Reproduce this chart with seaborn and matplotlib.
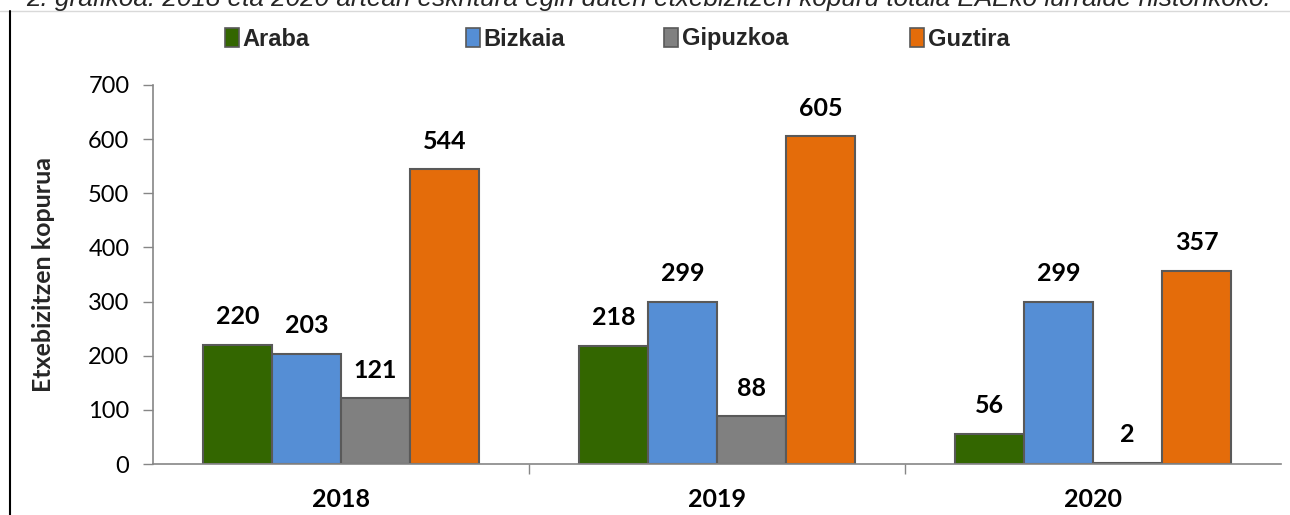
import matplotlib
matplotlib.use('Agg')
import matplotlib.pyplot as plt
import pandas as pd
import seaborn as sns
from matplotlib.lines import Line2D

# data
years = ['2018', '2019', '2020']
territories = ['Araba', 'Bizkaia', 'Gipuzkoa', 'Guztira']
araba = [220, 218, 56]
bizkaia = [203, 299, 299]
gipuzkoa = [121, 88, 2]
guztira = [544, 605, 357]
colors = ['#336600', '#558ED5', '#808080', '#E46C0A']

title = ('2. grafikoa: 2018 eta 2020 artean eskritura egin duten '
         'etxebizitzen kopuru totala EAEko lurralde historikoko.')
ylabel = 'Etxebizitzen kopurua'

df = pd.DataFrame({
    'year': years * 4,
    'territory': [t for t in territories for _ in years],
    'value': araba + bizkaia + gipuzkoa + guztira,
})

sns.set_theme(style='white')
plt.rcParams['font.family'] = ['Lato', 'DejaVu Sans']

fig = plt.figure(figsize=(12.9, 5.15), dpi=100)
ax = fig.add_axes([0.1186, 0.099, 0.8744, 0.736])

sns.barplot(data=df, x='year', y='value', hue='territory', order=years,
            hue_order=territories, palette=colors, width=0.735, gap=0,
            edgecolor='#595959', linewidth=1.5, saturation=1, ax=ax,
            legend=False)

# value labels above each bar
for cont in ax.containers:
    ax.bar_label(cont, fmt='%d', padding=12, fontsize=18, fontweight='bold',
                 color='black')

ax.set_xlim(-0.5, 2.5)
ax.set_ylim(0, 700)
ax.set_yticks(range(0, 701, 100))
ax.set_xlabel('')
ax.set_ylabel(ylabel, fontsize=18, fontweight='bold', labelpad=24)
ax.tick_params(axis='y', labelsize=17, length=7, width=1, color='#868686',
               direction='out', left=True, pad=10, labelcolor='black')
ax.tick_params(axis='x', which='major', length=0, pad=17, labelsize=18,
               labelcolor='black')
for lbl in ax.get_xticklabels():
    lbl.set_fontweight('bold')
ax.set_xticks([0.5, 1.5], minor=True)
ax.tick_params(axis='x', which='minor', length=7, width=1, color='#868686',
               direction='out', bottom=True)

for side in ['top', 'right']:
    ax.spines[side].set_visible(False)
for side in ['left', 'bottom']:
    ax.spines[side].set_color('#868686')
    ax.spines[side].set_linewidth(1.2)

# legend across the top, one entry per slot as in the reference
legend_x = [225, 466, 664, 910]
for c, name, x in zip(colors, territories, legend_x):
    h = plt.Rectangle((0, 0), 1, 1, facecolor=c, edgecolor='#595959',
                      linewidth=1.2)
    fig.legend([h], [name], loc='center left',
               bbox_to_anchor=(x / 1290, 1 - 39 / 515), frameon=False,
               prop={'family': 'Liberation Sans', 'weight': 'bold', 'size': 17},
               handlelength=0.6, handleheight=0.85, handletextpad=0.15,
               borderpad=0, borderaxespad=0)

# clipped caption at the very top
fig.text(649 / 1290, 1 - 6 / 515, title, ha='center', va='baseline',
         fontsize=18.85, style='italic', family='Liberation Sans')

# thin separator under the caption and left frame line
fig.add_artist(Line2D([0, 1], [1 - 11 / 515, 1 - 11 / 515],
                      transform=fig.transFigure, color='#d9d9d9', linewidth=1))
fig.add_artist(Line2D([10 / 1290, 10 / 1290], [0, 1 - 11 / 515],
                      transform=fig.transFigure, color='black', linewidth=1.5))

fig.savefig('out.png', dpi=100)
